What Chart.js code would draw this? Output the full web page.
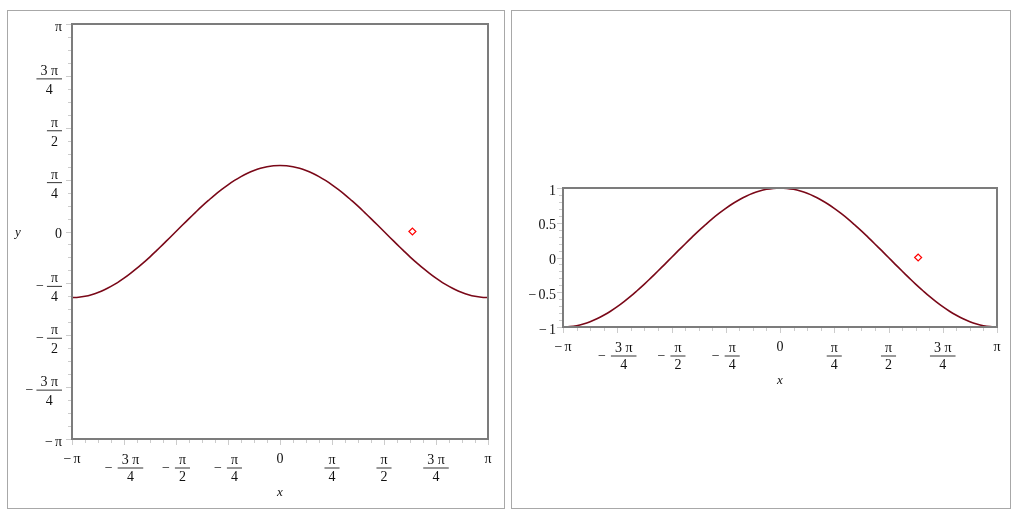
<!DOCTYPE html>
<html>
<head>
<meta charset="utf-8">
<script src="https://cdn.jsdelivr.net/npm/chart.js@4"></script>
<style>
  body { margin: 0; background: #fff; width: 1017px; height: 514px; position: relative; overflow: hidden; }
  .panel { position: absolute; top: 10px; height: 497px; border: 1px solid #a8a8a8; }
  #p1 { left: 7px; width: 496px; }
  #p2 { left: 511px; width: 498px; }
  canvas { display: block; }
</style>
</head>
<body>
<div class="panel" id="p1"><canvas id="c1" width="496" height="497"></canvas></div>
<div class="panel" id="p2"><canvas id="c2" width="498" height="497"></canvas></div>
<script>
// curve at steps of pi/32
const curveX = [-3.142, -3.043, -2.945, -2.847, -2.749, -2.651, -2.553, -2.454, -2.356, -2.258, -2.160, -2.062, -1.963, -1.865, -1.767, -1.669,
  -1.571, -1.473, -1.374, -1.276, -1.178, -1.080, -0.982, -0.884, -0.785, -0.687, -0.589, -0.491, -0.393, -0.295, -0.196, -0.098,
  0, 0.098, 0.196, 0.295, 0.393, 0.491, 0.589, 0.687, 0.785, 0.884, 0.982, 1.080, 1.178, 1.276, 1.374, 1.473,
  1.571, 1.669, 1.767, 1.865, 1.963, 2.062, 2.160, 2.258, 2.356, 2.454, 2.553, 2.651, 2.749, 2.847, 2.945, 3.043, 3.142];
const curveY = [-1, -0.995, -0.981, -0.957, -0.924, -0.882, -0.831, -0.773, -0.707, -0.634, -0.556, -0.471, -0.383, -0.290, -0.195, -0.098,
  0, 0.098, 0.195, 0.290, 0.383, 0.471, 0.556, 0.634, 0.707, 0.773, 0.831, 0.882, 0.924, 0.957, 0.981, 0.995,
  1, 0.995, 0.981, 0.957, 0.924, 0.882, 0.831, 0.773, 0.707, 0.634, 0.556, 0.471, 0.383, 0.290, 0.195, 0.098,
  0, -0.098, -0.195, -0.290, -0.383, -0.471, -0.556, -0.634, -0.707, -0.773, -0.831, -0.882, -0.924, -0.957, -0.981, -0.995, -1];

// the single marked point
const pointX = [2.0];
const pointY = [0];

// tick labels
const piTickValues = [-3.1416, -2.3562, -1.5708, -0.7854, 0, 0.7854, 1.5708, 2.3562, 3.1416];
const piTickLabels = ["−π", "−3 π/4", "−π/2", "−π/4", "0", "π/4", "π/2", "3 π/4", "π"];
const unitTickValues = [-1, -0.5, 0, 0.5, 1];
const unitTickLabels = ["−1", "−0.5", "0", "0.5", "1"];

const FONT = '14px "Liberation Serif", "Times New Roman", serif';
const FONT_IT = 'italic 13px "Liberation Serif", "Times New Roman", serif';
const TEXT = "#111";

function splitLabel(t) {
  let sign = "";
  if (t[0] === "−") { sign = "−"; t = t.slice(1); }
  const parts = t.split("/");
  return { sign: sign, num: parts[0], den: parts[1] };
}

function drawXLabel(ctx, text, x, axisY) {
  const l = splitLabel(text);
  ctx.fillStyle = TEXT;
  ctx.textBaseline = "alphabetic";
  if (l.den) {
    const wm = l.sign ? ctx.measureText("−").width + 5 : 0;
    const barW = Math.max(ctx.measureText(l.num).width, ctx.measureText(l.den).width) + 8;
    const sx = x - (wm + barW) / 2;
    const barY = axisY + 29;
    if (l.sign) {
      ctx.textAlign = "left"; ctx.textBaseline = "middle";
      ctx.fillText("−", sx, barY);
    }
    ctx.fillStyle = "#333";
    ctx.fillRect(sx + wm, barY - 0.5, barW, 1);
    ctx.fillStyle = TEXT;
    ctx.textAlign = "center"; ctx.textBaseline = "alphabetic";
    ctx.fillText(l.num, sx + wm + barW / 2, barY - 4);
    ctx.fillText(l.den, sx + wm + barW / 2, barY + 13);
  } else {
    const wm = l.sign ? ctx.measureText("−").width + 2 : 0;
    const w = wm + ctx.measureText(l.num).width;
    const sx = x - w / 2;
    ctx.textAlign = "left"; ctx.textBaseline = "middle";
    if (l.sign) ctx.fillText("−", sx, axisY + 20);
    ctx.fillText(l.num, sx + wm, axisY + 20);
  }
}

function drawYLabel(ctx, text, rightX, y) {
  const l = splitLabel(text);
  ctx.fillStyle = TEXT;
  if (l.den) {
    const barW = Math.max(ctx.measureText(l.num).width, ctx.measureText(l.den).width) + 8;
    const barY = y + 3;
    ctx.fillStyle = "#333";
    ctx.fillRect(rightX - barW, barY - 0.5, barW, 1);
    ctx.fillStyle = TEXT;
    ctx.textAlign = "center"; ctx.textBaseline = "alphabetic";
    ctx.fillText(l.num, rightX - barW / 2, barY - 4);
    ctx.fillText(l.den, rightX - barW / 2, barY + 15);
    if (l.sign) {
      ctx.textAlign = "right"; ctx.textBaseline = "middle";
      ctx.fillText("−", rightX - barW - 3, barY);
    }
  } else {
    ctx.textAlign = "right"; ctx.textBaseline = "middle";
    ctx.fillText(l.num, rightX, y + 3);
    if (l.sign) ctx.fillText("−", rightX - ctx.measureText(l.num).width - 2, y + 3);
  }
}

function axisDecor(o) {
  return {
    id: "axisDecor",
    afterDatasetsDraw(chart) {
      const ctx = chart.ctx;
      const a = chart.chartArea;
      const xs = chart.scales.x, ys = chart.scales.y;
      ctx.save();
      // minor + major ticks
      ctx.strokeStyle = "#cccccc";
      ctx.lineWidth = 1;
      ctx.beginPath();
      for (let i = 0; i <= o.xMinorCount; i++) {
        const px = Math.round(a.left + (a.right - a.left) * i / o.xMinorCount) + 0.5;
        const len = i % o.xMajorEvery === 0 ? 5 : 3;
        ctx.moveTo(px, a.bottom + 1); ctx.lineTo(px, a.bottom + 1 + len);
      }
      for (let i = 0; i <= o.yMinorCount; i++) {
        const py = Math.round(a.top + (a.bottom - a.top) * i / o.yMinorCount) + 0.5;
        const len = i % o.yMajorEvery === 0 ? 5 : 3;
        ctx.moveTo(a.left - 1, py); ctx.lineTo(a.left - 1 - len, py);
      }
      ctx.stroke();
      // box
      ctx.strokeStyle = "#7c7c7c";
      ctx.lineWidth = 2;
      ctx.strokeRect(a.left, a.top, a.right - a.left, a.bottom - a.top);
      // labels
      ctx.font = FONT;
      o.xValues.forEach((v, i) => drawXLabel(ctx, o.xLabels[i], xs.getPixelForValue(v), a.bottom));
      o.yValues.forEach((v, i) => drawYLabel(ctx, o.yLabels[i], a.left - o.yGap, ys.getPixelForValue(v)));
      ctx.font = FONT_IT;
      ctx.fillStyle = TEXT;
      ctx.textAlign = "center"; ctx.textBaseline = "middle";
      ctx.fillText("x", (a.left + a.right) / 2, a.bottom + 54);
      if (o.yTitle) ctx.fillText(o.yTitle, 10, (a.top + a.bottom) / 2 + 1);
      ctx.restore();
    }
  };
}

function makeChart(id, yMin, yMax, padding, decor) {
  const curve = curveX.map((x, i) => ({ x: x, y: curveY[i] }));
  const marks = pointX.map((x, i) => ({ x: x, y: pointY[i] }));
  return new Chart(document.getElementById(id), {
    type: "line",
    data: {
      datasets: [{
        data: curve,
        borderColor: "#7a0818",
        borderWidth: 1.6,
        pointRadius: 0,
        tension: 0.4,
        fill: false
      }, {
        data: marks,
        showLine: false,
        pointStyle: "rectRot",
        pointRadius: 3.5,
        pointBorderColor: "#ff0000",
        pointBackgroundColor: "rgba(255,255,255,0)",
        pointBorderWidth: 1.2
      }]
    },
    options: {
      responsive: false,
      animation: false,
      devicePixelRatio: 1,
      layout: { padding: padding },
      plugins: { legend: { display: false }, tooltip: { enabled: false } },
      scales: {
        x: { type: "linear", min: -Math.PI, max: Math.PI, display: false },
        y: { type: "linear", min: yMin, max: yMax, display: false }
      }
    },
    plugins: [axisDecor(decor)]
  });
}

makeChart("c1", -Math.PI, Math.PI, { left: 64, right: 16, top: 13, bottom: 69 }, {
  xValues: piTickValues, xLabels: piTickLabels,
  yValues: piTickValues, yLabels: piTickLabels,
  xMinorCount: 32, xMajorEvery: 4, yMinorCount: 32, yMajorEvery: 4,
  yGap: 10, yTitle: "y"
});

makeChart("c2", -1, 1, { left: 51, right: 13, top: 177, bottom: 181 }, {
  xValues: piTickValues, xLabels: piTickLabels,
  yValues: unitTickValues, yLabels: unitTickLabels,
  xMinorCount: 32, xMajorEvery: 4, yMinorCount: 20, yMajorEvery: 5,
  yGap: 7, yTitle: ""
});
</script>
</body>
</html>
